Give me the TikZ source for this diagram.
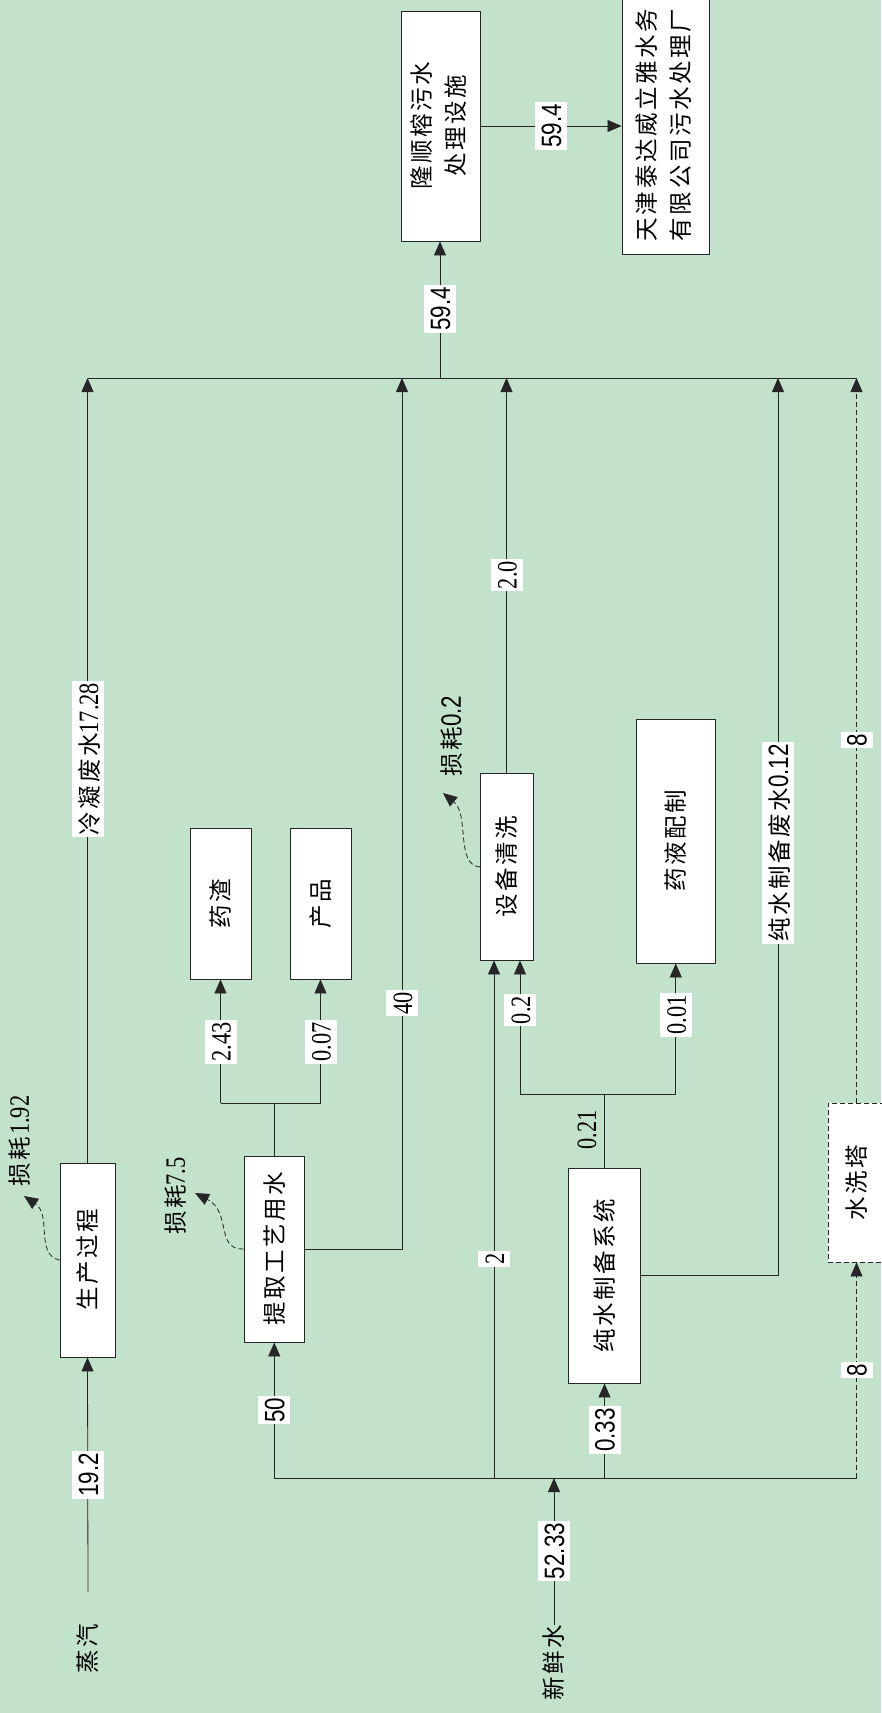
\documentclass[tikz,border=0pt]{standalone}
\usepackage{graphicx}
\usepackage{fontspec}
\setmainfont{Liberation Serif}[FakeStretch=0.8]
\newfontfamily\sansnum{Liberation Sans}[FakeStretch=0.8]
\newfontfamily\cjk{Noto Sans CJK SC}[LetterSpace=11]
\usetikzlibrary{arrows.meta}
\definecolor{bgc}{RGB}{195,226,203}
\newcommand\zhtext[1]{{\fontsize{23.5}{34}\cjk #1}}
\newcommand\zhtab[1]{{\fontsize{23.5}{34}\cjk\begin{tabular}{@{}c@{}}#1\end{tabular}}}
\newcommand\sernum[1]{{\fontsize{28}{30}\selectfont #1}}
\newcommand\sansn[1]{{\fontsize{28}{30}\sansnum #1}}
\tikzset{
  box/.style={draw=black!85, line width=0.9pt, fill=white, inner sep=0pt},
  flow/.style={line width=0.8pt, draw=black!85},
  arr/.style={flow, -{Triangle[length=14pt,width=12pt]}},
  dsh/.style={dash pattern=on 5pt off 3pt},
  lbl/.style={rotate=90, fill=white, inner xsep=2pt, inner ysep=0pt, text height=26pt, text depth=6pt},
  plain/.style={rotate=90, inner sep=0pt},
}
\begin{document}
\begin{tikzpicture}[x=1pt,y=-1pt]
\fill[bgc] (0,0) rectangle (881,1713);
\useasboundingbox (0,0) rectangle (881,1713);

% boxes
\node[box, minimum width=79pt, minimum height=230pt] (ls) at (440.5,126) {\rotatebox{90}{\zhtab{隆顺榕污水\\处理设施}}};
\node[box, minimum width=87pt, minimum height=258pt] (tj) at (665.5,125) {\rotatebox{90}{\zhtab{天津泰达威立雅水务\\有限公司污水处理厂}}};
\node[box, minimum width=55pt, minimum height=194pt] (sc) at (87.5,1260) {\rotatebox{90}{\zhtext{生产过程}}};
\node[box, minimum width=60.5pt, minimum height=186pt] (tq) at (274.25,1249) {\rotatebox{90}{\zhtext{提取工艺用水}}};
\node[box, minimum width=61pt, minimum height=151pt] (yz) at (220.5,903.5) {\rotatebox{90}{\zhtext{药渣}}};
\node[box, minimum width=61pt, minimum height=151pt] (cp) at (320.5,903.5) {\rotatebox{90}{\zhtext{产品}}};
\node[box, minimum width=53pt, minimum height=187pt] (sb) at (506.5,866.5) {\rotatebox{90}{\zhtext{设备清洗}}};
\node[box, minimum width=78.5pt, minimum height=244pt] (yy) at (675.75,841) {\rotatebox{90}{\zhtext{药液配制}}};
\node[box, minimum width=72pt, minimum height=215pt] (cs) at (604.5,1275.5) {\rotatebox{90}{\zhtext{纯水制备系统}}};
\node[box, dsh, minimum width=57pt, minimum height=159pt] (sx) at (856.5,1182.5) {\rotatebox{90}{\zhtext{水洗塔}}};

% sources
\node[plain] (st) at (88,1649) {\zhtext{蒸汽}};
\node[plain] (fw) at (554,1663) {\zhtext{新鲜水}};
\coordinate (stout) at (88,1592);

% collector
\coordinate (cL) at (88,378);
\coordinate (cR) at (857,378);
\coordinate (cLS) at (440,378);
\coordinate (c40) at (402,378);
\coordinate (c12) at (778,378);
\draw[flow] (cL) -- (cR);
\draw[arr] (cLS) -- (cLS |- ls.south);
\node[lbl] at (440,309) {\sansn{59.4}};
\draw[arr] (ls.east) -- (ls.east -| tj.west);
\node[lbl] at (551,126) {\sansn{59.4}};

\draw[arr] (sc.north) -- (sc.north |- cL);
\node[lbl] at (88,759) {\zhtext{冷凝废水}\sernum{17.28}};
\draw[arr] (tq.east) -| (c40);
\node[lbl] at (402,1003) {\sernum{40}};
\draw[arr] (sb.north) -- (sb.north |- cL);
\node[lbl] at (506.5,575) {\sernum{2.0}};
\draw[arr] (cs.east) -| (c12);
\node[lbl] at (778,843) {\zhtext{纯水制备废水}\sansn{0.12}};
\draw[arr,dsh] (sx.north) -- (sx.north |- cL);
\node[lbl] at (856.5,740) {\sansn{8}};

% distributor
\coordinate (dL) at (274.25,1478);
\coordinate (dR) at (856.5,1478);
\coordinate (d2) at (494,1478);
\draw[flow] (dL) -- (dR);
\draw[arr] (fw.east) -- (fw.east |- dL);
\node[lbl] at (554,1551) {\sansn{52.33}};
\draw[arr] (stout) -- (sc.south);
\node[lbl] at (88,1475) {\sansn{19.2}};
\draw[arr] (dL) -- (tq.south);
\node[lbl] at (274.25,1410) {\sansn{50}};
\draw[arr] (d2) -- (d2 |- sb.south);
\node[lbl] at (494,1259) {\sernum{2}};
\draw[arr] (cs.south |- dL) -- (cs.south);
\node[lbl] at (604.5,1430) {\sansn{0.33}};
\draw[arr,dsh] (dR) -- (sx.south);
\node[lbl] at (856.5,1370) {\sansn{8}};

% extraction outputs
\coordinate (tb) at (274.25,1103);
\coordinate (tbL) at (220.5,1103);
\coordinate (tbR) at (320.5,1103);
\draw[flow] (tq.north) -- (tb);
\draw[flow] (tbL) -- (tbR);
\draw[arr] (tbL) -- (yz.south);
\draw[arr] (tbR) -- (cp.south);
\node[lbl] at (220.5,1042) {\sernum{2.43}};
\node[lbl] at (320.5,1042) {\sernum{0.07}};

% pure water outputs
\coordinate (cb) at (604.5,1094);
\coordinate (cbL) at (520,1094);
\coordinate (cbR) at (675.75,1094);
\draw[flow] (cs.north) -- (cb);
\draw[flow] (cbL) -- (cbR);
\draw[arr] (cbL) -- (cbL |- sb.south);
\draw[arr] (cbR) -- (yy.south);
\node[lbl] at (520,1010) {\sernum{0.2}};
\node[lbl] at (675.75,1015) {\sernum{0.01}};
\node[plain] at (587,1130) {\sernum{0.21}};

% losses
\node[plain] (l1) at (20,1141) {\zhtext{损耗}\,\sernum{1.92}};
\node[plain] (l2) at (176,1196) {\zhtext{损耗}\sernum{7.5}};
\node[plain] (l3) at (452,736) {\zhtext{损耗}\sansn{0.2}};
\coordinate (l1t) at (24,1196);
\coordinate (l2t) at (195,1193);
\coordinate (l3t) at (443,793);
\draw[arr,dsh] (sc.west) .. controls (35,1255) and (52,1215) .. (l1t);
\draw[arr,dsh] (tq.west) .. controls (215,1250) and (232,1212) .. (l2t);
\coordinate (sbw) at (480,867);
\draw[arr,dsh] (sbw) .. controls (455,865) and (470,815) .. (l3t);
\end{tikzpicture}
\end{document}
